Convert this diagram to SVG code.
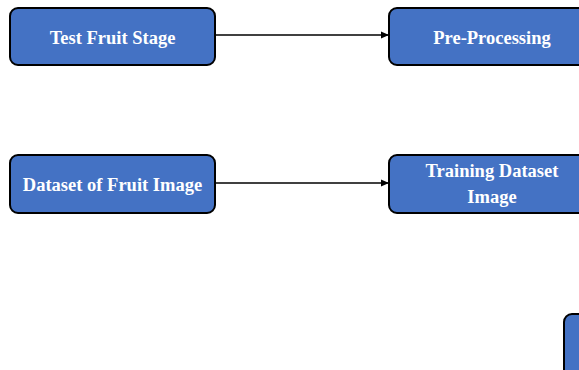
<svg xmlns="http://www.w3.org/2000/svg" width="579" height="370" viewBox="0 0 579 370">
<style>
.box{fill:#4472C4;stroke:#000;stroke-width:2}
.lbl{fill:#fff;font-family:"Liberation Serif","Times New Roman",serif;font-weight:bold;font-size:18.5px;text-anchor:middle}
.conn{stroke:#000;stroke-width:1.5;fill:none;marker-end:url(#ah)}
</style>
<defs>
<marker id="ah" viewBox="0 0 8 8" refX="8" refY="4" markerWidth="8" markerHeight="8" markerUnits="userSpaceOnUse" orient="auto">
<path d="M0,0.5 L8,4 L0,7.5 Z" fill="#000"/>
</marker>
</defs>
<rect width="579" height="370" fill="#fff"/>
<g id="connectors">
<line class="conn" x1="215" y1="35" x2="389" y2="35"/>
<line class="conn" x1="215" y1="183" x2="389" y2="183"/>
</g>
<g id="test-fruit-stage">
<rect class="box" x="10" y="8" width="205" height="57" rx="8"/>
<text class="lbl" x="112.5" y="44">Test Fruit Stage</text>
</g>
<g id="pre-processing">
<rect class="box" x="389" y="8" width="206" height="57" rx="8"/>
<text class="lbl" x="492" y="44">Pre-Processing</text>
</g>
<g id="dataset-of-fruit-image">
<rect class="box" x="10" y="155" width="205" height="58" rx="8"/>
<text class="lbl" x="112.5" y="191">Dataset of Fruit Image</text>
</g>
<g id="training-dataset-image">
<rect class="box" x="389" y="155" width="206" height="58" rx="8"/>
<text class="lbl" x="492" y="177">Training Dataset</text>
<text class="lbl" x="492" y="203">Image</text>
</g>
<g id="partial-node">
<rect class="box" x="564" y="314" width="60" height="80" rx="8"/>
</g>
</svg>
